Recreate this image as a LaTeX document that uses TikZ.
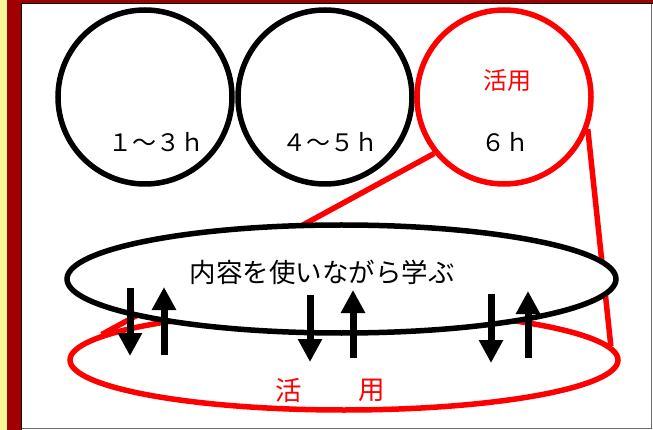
\documentclass[tikz,border=0pt]{standalone}
\usepackage{fontspec}
\newfontfamily\jp{Noto Sans CJK JP}
\usetikzlibrary{shapes.geometric,arrows.meta}
\definecolor{framered}{RGB}{160,0,0}
\definecolor{pale}{RGB}{250,246,150}
\definecolor{edgegray}{RGB}{110,110,110}
\begin{document}
\begin{tikzpicture}[x=1pt,y=-1pt,
  ring/.style={circle,draw,line width=5.5pt,minimum size=174pt,inner sep=0pt},
  oval/.style={ellipse,line width=5.5pt,inner sep=0pt},
  conn/.style={draw=red,line width=5.5pt},
  updown/.style={line width=7pt,-{Triangle[width=23pt,length=23pt]}},
  lbl/.style={font=\jp\fontsize{24}{24}\selectfont,inner sep=0pt},
  big/.style={font=\jp\fontsize{26.5}{26.5}\selectfont,inner sep=0pt}]
\useasboundingbox (0,0) rectangle (653,430);
% frame
\fill[white] (0,0) rectangle (653,430);
\fill[pale] (0,0) rectangle (7,430);
\fill[framered] (7,0) rectangle (21,430);
\fill[framered] (7,0) rectangle (653,3);
\draw[black,line width=1pt] (21.5,430) -- (21.5,3.5) -- (653,3.5);
\draw[edgegray,line width=1.5pt] (651.5,4) -- (651.5,428.5) -- (22,428.5);
% circles
\node[ring] (c1) at (145,97) {};
\node[ring] (c2) at (325,97) {};
\node[ring,draw=red] (c3) at (504,97) {};
\node[lbl] (t1) at (156,142) {１～３ｈ};
\node[lbl] (t2) at (330,142) {４～５ｈ};
\node[lbl] (t3) at (505,142) {６ｈ};
\node[lbl,text=red] (k1) at (507,80) {活用};
% red ellipse
\node[oval,draw=red,minimum width=548pt,minimum height=100pt] (redov) at (344,360) {};
% connectors
\draw[conn] (c3.219) -- (redov.174.5);
\draw[conn] (c3.-21) -- (redov.3);
% black ellipse
\node[oval,draw=black,fill=white,minimum width=549pt,minimum height=108pt] (blackov) at (341.5,279) {};
\node[big] (main) at (322,272) {内容を使いながら学ぶ};
\node[big,text=red] (k2) at (289,390) {活};
\node[big,text=red] (k3) at (372,390) {用};
% arrows
\coordinate (d1a) at (130,288); \coordinate (d1b) at (130,356);
\coordinate (u1a) at (164,355); \coordinate (u1b) at (164,287);
\coordinate (d2a) at (310,295); \coordinate (d2b) at (310,362);
\coordinate (u2a) at (353,358); \coordinate (u2b) at (353,290);
\coordinate (d3a) at (491,294); \coordinate (d3b) at (491,363);
\coordinate (u3a) at (528,358); \coordinate (u3b) at (528,291);
\draw[updown] (d1a) -- (d1b);
\draw[updown] (u1a) -- (u1b);
\draw[updown] (d2a) -- (d2b);
\draw[updown] (u2a) -- (u2b);
\draw[updown] (d3a) -- (d3b);
\draw[updown] (u3a) -- (u3b);
\end{tikzpicture}
\end{document}
